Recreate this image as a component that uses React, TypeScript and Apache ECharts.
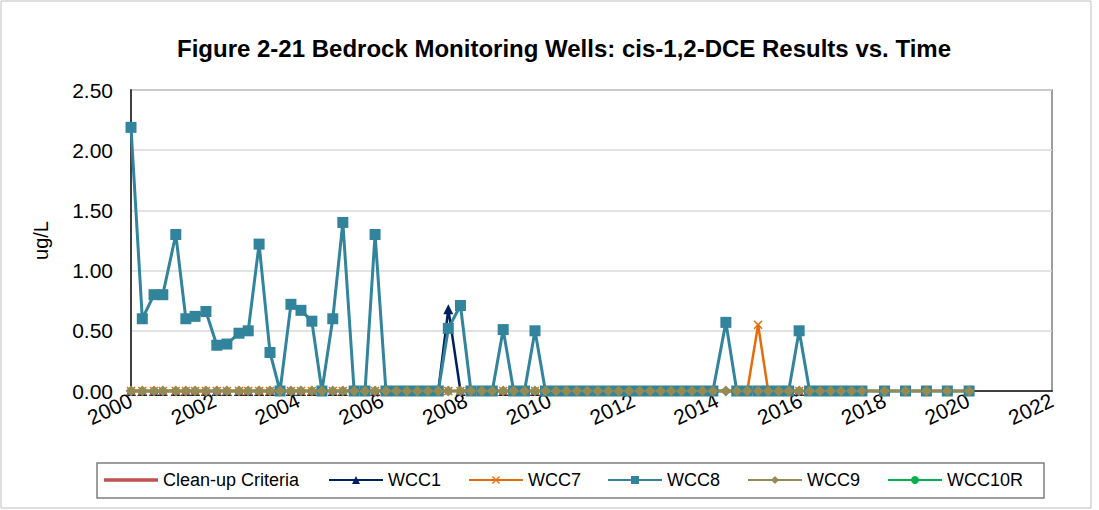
import React, { useEffect, useRef } from "react";
import * as echarts from "echarts";

const TITLE = "Figure 2-21 Bedrock Monitoring Wells: cis-1,2-DCE Results vs. Time";
const Y_NAME = "ug/L";
const SERIES_NAMES = ["Clean-up Criteria", "WCC1", "WCC7", "WCC8", "WCC9", "WCC10R"];

// sampling dates (decimal years)
const dates = [
  2000.0, 2000.27, 2000.55, 2000.76, 2001.07, 2001.31, 2001.53, 2001.79,
  2002.05, 2002.29, 2002.58, 2002.8, 2003.06, 2003.32, 2003.56, 2003.82,
  2004.06, 2004.32, 2004.56, 2004.82, 2005.06, 2005.33, 2005.59, 2005.83,
  2006.09, 2006.34, 2006.59, 2006.84, 2007.09, 2007.34, 2007.58, 2007.87,
  2008.12, 2008.38, 2008.63, 2008.89, 2009.14, 2009.4, 2009.65, 2009.9,
  2010.15, 2010.4, 2010.65, 2010.9, 2011.15, 2011.4, 2011.65, 2011.9,
  2012.15, 2012.4, 2012.65, 2012.9, 2013.15, 2013.4, 2013.65, 2013.9,
  2014.21, 2014.47, 2014.72, 2014.98, 2015.22, 2015.47, 2015.71, 2015.96,
  2016.21, 2016.46, 2016.71, 2016.96, 2017.21, 2017.46,
  2018.0, 2018.5, 2019.0, 2019.5, 2020.02,
];

const _ = null;

const wcc1 = [
  0, 0, 0, 0, 0, 0, 0, 0,
  0, 0, 0, 0, 0, 0, 0, 0,
  0, 0, 0, 0, 0, 0, 0, 0,
  0, 0, 0, 0, 0, 0, 0.68, 0,
  _, _, _, 0, _, _, 0, _,
  _, _, _, _, _, _, _, _,
  _, _, _, _, _, _, _, _,
  _, _, _, _, _, _, _, 0,
  _, _, _, _, _, _,
  _, _, _, _, _,
];

const wcc7 = [
  0, 0, 0, 0, 0, 0, 0, 0,
  0, 0, 0, 0, 0, 0, 0, 0,
  0, 0, 0, 0, 0, 0, 0, 0,
  0, 0, 0, 0, 0, 0, 0, 0,
  _, _, _, 0, _, _, 0, _,
  _, _, _, _, _, _, _, _,
  _, _, _, _, _, _, _, _,
  _, _, 0, 0.55, 0, _, _, 0,
  _, _, _, _, _, _,
  _, _, _, _, _,
];

const wcc8 = [
  2.19, 0.6, 0.8, 0.8, 1.3, 0.6, 0.62, 0.66,
  0.38, 0.39, 0.48, 0.5, 1.22, 0.32, 0, 0.72,
  0.67, 0.58, 0, 0.6, 1.4, 0, 0, 1.3,
  0, 0, 0, 0, 0, 0, 0.52, 0.71,
  0, 0, 0, 0.51, 0, 0, 0.5, 0,
  0, 0, 0, 0, 0, 0, 0, 0,
  0, 0, 0, 0, 0, 0, 0, 0,
  0.57, 0, 0, 0, 0, 0, 0, 0.5,
  0, 0, 0, 0, 0, 0,
  0, 0, 0, 0, 0,
];

const wcc9 = [
  0, 0, 0, 0, 0, 0, 0, 0,
  0, 0, 0, 0, 0, 0, 0, 0,
  0, 0, 0, 0, 0, 0, 0, 0,
  0, 0, 0, 0, 0, 0, 0, 0,
  0, 0, 0, 0, 0, 0, 0, 0,
  0, 0, 0, 0, 0, 0, 0, 0,
  0, 0, 0, 0, 0, 0, 0, 0,
  0, 0, 0, 0, 0, 0, 0, 0,
  0, 0, 0, 0, 0, 0,
  0, 0, 0, 0, 0,
];

const cleanup: (number | null)[] = [];
const wcc10r: (number | null)[] = [];

const X_MIN = 2000;
const X_MAX = 2022;
const X_STEP = 2;
const Y_MIN = 0;
const Y_MAX = 2.5;
const Y_STEP = 0.5;

const COLORS = ["#C0504D", "#002060", "#E46C0A", "#31849B", "#948A54", "#00B050"];

const X_SYMBOL = "path://M0,1.2 L1.2,0 L5,3.8 L8.8,0 L10,1.2 L6.2,5 L10,8.8 L8.8,10 L5,6.2 L1.2,10 L0,8.8 L3.8,5 Z";
const DIAMOND_SYMBOL = "path://M5,0 L10,5 L5,10 L0,5 Z";

function pairs(vals: (number | null)[]) {
  const out: [number, number][] = [];
  vals.forEach((v, i) => {
    if (v !== null && v !== undefined && i < dates.length) out.push([dates[i], v]);
  });
  return out;
}

export default function App() {
  const ref = useRef<HTMLDivElement>(null);
  useEffect(() => {
    if (!ref.current) return;
    const chart = echarts.init(ref.current, undefined, { renderer: "svg" });
    const font = "Arial, 'Liberation Sans', sans-serif";
    const seriesData = [cleanup, wcc1, wcc7, wcc8, wcc9, wcc10r];
    const symbols = ["none", "triangle", X_SYMBOL, "rect", DIAMOND_SYMBOL, "circle"];
    const symbolSizes = [0, 10, 9, 11, 11, 10];
    const lineWidths = [3, 2.5, 2.5, 3, 3, 2.5];
    const legendLefts = [104, 328, 468, 607, 747, 887];

    chart.setOption({
      animation: false,
      backgroundColor: "#ffffff",
      title: {
        text: TITLE,
        left: 559,
        textAlign: "center",
        top: 31,
        textStyle: { fontFamily: font, fontSize: 24, fontWeight: "bold", color: "#000" },
      },
      grid: { left: 131, top: 90, width: 921, height: 301, show: true, borderColor: "#7f7f7f", borderWidth: 1.5, backgroundColor: "transparent" },
      legend: SERIES_NAMES.map((n, i) => ({
        data: [i === 0 ? { name: n, icon: "rect" } : n],
        left: legendLefts[i],
        top: 471,
        padding: 0,
        itemWidth: 54,
        itemHeight: i === 0 ? 3.5 : 10,
        itemGap: 4,
        textStyle: { fontFamily: font, fontSize: 18, color: "#000" },
        selectedMode: false,
      })),
      xAxis: {
        type: "value",
        min: X_MIN,
        max: X_MAX,
        interval: X_STEP,
        axisLine: { show: true, onZero: false, lineStyle: { color: "#404040", width: 2 } },
        axisTick: { show: false },
        splitLine: { show: false },
        axisLabel: {
          rotate: 25,
          margin: 8,
          fontFamily: font,
          fontSize: 21,
          color: "#000",
          formatter: (v: number) => String(v),
        },
      },
      yAxis: {
        type: "value",
        min: Y_MIN,
        max: Y_MAX,
        interval: Y_STEP,
        name: Y_NAME,
        nameLocation: "middle",
        nameGap: 80,
        nameTextStyle: { fontFamily: font, fontSize: 20, color: "#000" },
        axisLine: { show: true, lineStyle: { color: "#404040", width: 2 } },
        axisTick: { show: false },
        splitLine: { show: true, lineStyle: { color: "#d9d9d9", width: 1.5 } },
        axisLabel: {
          margin: 18,
          fontFamily: font,
          fontSize: 21,
          color: "#000",
          formatter: (v: number) => v.toFixed(2),
        },
      },
      series: SERIES_NAMES.map((n, i) => ({
        name: n,
        type: "line",
        data: pairs(seriesData[i]),
        symbol: symbols[i],
        symbolSize: symbolSizes[i],
        showSymbol: true,
        clip: false,
        color: COLORS[i],
        lineStyle: { color: COLORS[i], width: lineWidths[i] },
        itemStyle: { color: COLORS[i] },
      })),
      graphic: [
        {
          type: "rect",
          shape: { x: 1, y: 1, width: 1090, height: 507 },
          style: { fill: "none", stroke: "#bfbfbf", lineWidth: 1 },
          silent: true,
        },
        {
          type: "rect",
          shape: { x: 97, y: 463, width: 947, height: 35 },
          style: { fill: "none", stroke: "#7f7f7f", lineWidth: 1.5 },
          silent: true,
          z: -1,
        },
      ],
    });
    return () => chart.dispose();
  }, []);
  return (
    <div
      ref={ref}
      style={{ position: "absolute", left: 0, top: 0, width: 1099, height: 510 }}
    />
  );
}
